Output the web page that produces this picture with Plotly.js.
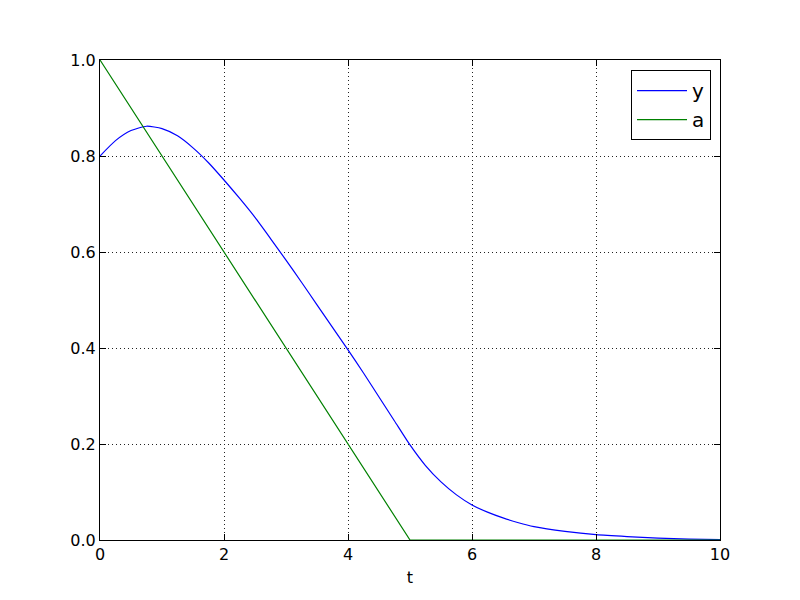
<!DOCTYPE html>
<html>
<head>
<meta charset="utf-8">
<script src="https://cdn.plot.ly/plotly-3.0.1.min.js"></script>
<style>html,body{margin:0;padding:0;background:#fff;}#chart{width:800px;height:600px;}</style>
</head>
<body>
<div id="chart"></div>
<script>
// Series y (blue)
var tY = [0, 0.25, 0.5, 0.75, 1.0, 1.25, 1.5, 1.75, 2.0, 2.25, 2.5, 2.75, 3.0, 3.25, 3.5, 3.75, 4.0, 4.25, 4.5, 4.75, 5.0, 5.25, 5.5, 5.75, 6.0, 6.25, 6.5, 6.75, 7.0, 7.5, 8.0, 8.5, 9.0, 9.5, 10.0];
var yVals = [0.800, 0.832, 0.853, 0.862, 0.857, 0.842, 0.817, 0.786, 0.750, 0.712, 0.672, 0.628, 0.583, 0.537, 0.490, 0.443, 0.396, 0.348, 0.298, 0.248, 0.198, 0.155, 0.121, 0.094, 0.073, 0.058, 0.046, 0.036, 0.028, 0.018, 0.011, 0.007, 0.004, 0.002, 0.001];
// Series a (green)
var tA = [0, 5, 10];
var aVals = [1.0, 0.0, 0.0];
// Ticks
var xTicks = [0, 2, 4, 6, 8, 10];
var yTicks = [0.0, 0.2, 0.4, 0.6, 0.8, 1.0];

var font = {family: 'DejaVu Sans, sans-serif', size: 16, color: '#000'};

var traces = [
  {x: tY, y: yVals, name: 'y', type: 'scatter', mode: 'lines', line: {color: '#0000ff', width: 1.2, shape: 'spline', smoothing: 0.6}, cliponaxis: false},
  {x: tA, y: aVals, name: 'a', type: 'scatter', mode: 'lines', line: {color: '#008000', width: 1.2}, cliponaxis: false}
];

var axisCommon = {
  showline: true, linecolor: '#000', linewidth: 1, mirror: 'ticks',
  ticks: 'inside', ticklen: 6, tickcolor: '#000', tickwidth: 1,
  showgrid: true, gridcolor: '#222', gridwidth: 1, griddash: '1px,3px',
  zeroline: false, tickfont: font
};

var layout = {
  width: 800, height: 600,
  paper_bgcolor: '#fff', plot_bgcolor: '#fff',
  margin: {l: 100, r: 80, t: 60, b: 60},
  font: font,
  showlegend: true,
  legend: {x: 0.9855, y: 0.979, xanchor: 'right', yanchor: 'top', bgcolor: '#fff', bordercolor: '#000', borderwidth: 1, itemwidth: 50,
           font: {family: 'DejaVu Sans, sans-serif', size: 20, color: '#000'}},
  xaxis: Object.assign({}, axisCommon, {range: [0, 10], tickvals: xTicks, ticktext: xTicks.map(String), title: {text: 't', font: font, standoff: 8}}),
  yaxis: Object.assign({}, axisCommon, {range: [0, 1], tickvals: yTicks, ticktext: yTicks.map(function(v){return v.toFixed(1);})})
};

Plotly.newPlot('chart', traces, layout, {displayModeBar: false, staticPlot: true});
</script>
</body>
</html>
